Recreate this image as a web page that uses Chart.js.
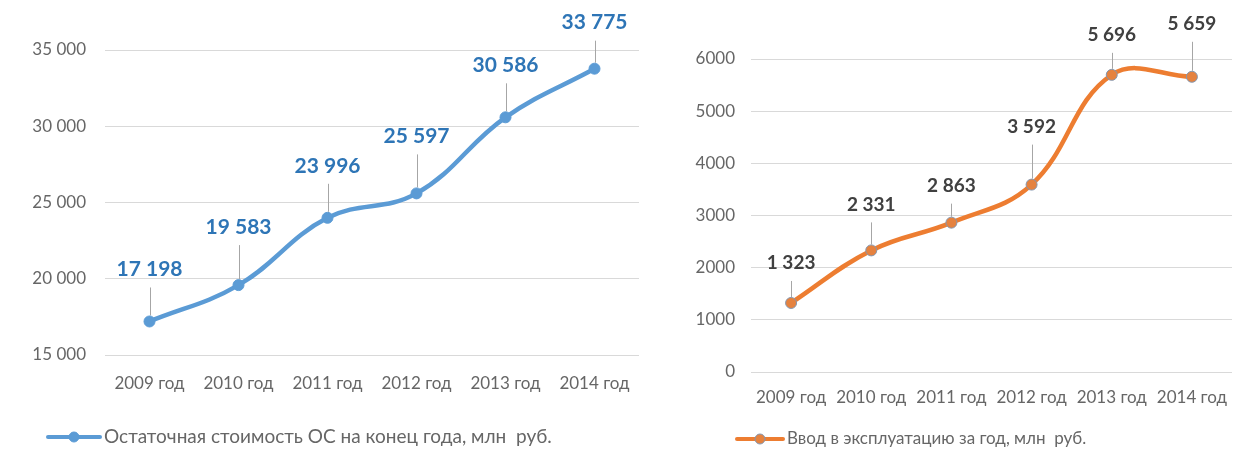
<!DOCTYPE html>
<html><head><meta charset="utf-8">
<script src="https://cdn.jsdelivr.net/npm/chart.js@4/dist/chart.umd.min.js"></script>
<style>
html,body{margin:0;padding:0;background:#fff;width:1252px;height:455px;overflow:hidden}
#l{position:absolute;left:0;top:0;width:650px;height:455px}
#r{position:absolute;left:650px;top:0;width:602px;height:455px}
canvas{display:block}
</style></head><body>
<div id="l"><canvas id="c1" width="650" height="455"></canvas></div>
<div id="r"><canvas id="c2" width="602" height="455"></canvas></div>
<script>
// ---- data ----
const years = ['2009 год','2010 год','2011 год','2012 год','2013 год','2014 год'];
const residualValue = [17198, 19583, 23996, 25597, 30586, 33775];
const commissioned = [1323, 2331, 2863, 3592, 5696, 5659];
const leftTickValues = [15000, 20000, 25000, 30000, 35000];
const rightTickValues = [0, 1000, 2000, 3000, 4000, 5000, 6000];
const leftLegend = 'Остаточная стоимость ОС на конец года, млн  руб.';
const rightLegend = 'Ввод в эксплуатацию за год, млн  руб.';

// ---- style ----
const FONT = 'Lato, "Open Sans", sans-serif';
const TICK = '#666666';
const fmtSpace = v => String(Math.round(v)).replace(/\B(?=(\d{3})+(?!\d))/g, ' ');

const deco = {
  id: 'deco',
  beforeDatasetsDraw(chart, args, o) {
    const ctx = chart.ctx, meta = chart.getDatasetMeta(0);
    ctx.save();
    ctx.strokeStyle = '#a6a6a6'; ctx.lineWidth = 1;
    meta.data.forEach((pt, i) => {
      const lift = o.lift[i];
      const x = Math.round(pt.x) + 0.5;
      ctx.beginPath();
      ctx.moveTo(x, pt.y - lift + o.gap);
      ctx.lineTo(x, pt.y - 6);
      ctx.stroke();
    });
    ctx.restore();
  },
  afterDatasetsDraw(chart, args, o) {
    const ctx = chart.ctx, meta = chart.getDatasetMeta(0);
    const vals = chart.data.datasets[0].data;
    ctx.save();
    ctx.font = 'bold ' + o.size + 'px ' + FONT;
    ctx.fillStyle = o.color; ctx.textAlign = 'center'; ctx.textBaseline = 'middle';
    meta.data.forEach((pt, i) => {
      ctx.fillText(fmtSpace(vals[i]), pt.x, pt.y - o.lift[i]);
    });
    // legend
    const ds = chart.data.datasets[0];
    const y = o.legY, x0 = chart.chartArea.left + o.legDx;
    ctx.strokeStyle = ds.borderColor; ctx.lineWidth = 4; ctx.lineCap = 'round';
    ctx.beginPath(); ctx.moveTo(x0, y); ctx.lineTo(x0 + o.legLen, y); ctx.stroke();
    ctx.beginPath(); ctx.arc(x0 + o.legLen / 2, y, 5, 0, Math.PI * 2);
    ctx.fillStyle = ds.pointBackgroundColor; ctx.fill();
    ctx.lineWidth = 1; ctx.strokeStyle = ds.pointBorderColor; ctx.stroke();
    ctx.font = o.legSize + 'px ' + FONT; ctx.fillStyle = TICK;
    ctx.textAlign = 'left';
    ctx.fillText(o.legText, x0 + o.legLen + 4, y);
    ctx.restore();
  }
};

function makeChart(id, cfg) {
  return new Chart(document.getElementById(id), {
    type: 'line',
    data: {
      labels: years,
      datasets: [{
        data: cfg.values,
        borderColor: cfg.line, borderWidth: 4.5,
        pointRadius: 5.5, pointHoverRadius: 5.5,
        pointBackgroundColor: cfg.pointFill, pointBorderColor: cfg.pointBorder, pointBorderWidth: 1,
        tension: 0.4, fill: false
      }]
    },
    options: {
      responsive: false, animation: false, devicePixelRatio: 1,
      layout: { padding: cfg.padding },
      plugins: { legend: { display: false }, tooltip: { enabled: false }, deco: cfg.deco },
      scales: {
        x: {
          offset: true,
          grid: { display: false, drawTicks: false },
          border: { display: false },
          ticks: { color: TICK, font: { family: FONT, size: 17 }, padding: cfg.xPad, maxRotation: 0, autoSkip: false },
          afterFit: s => { s.height = cfg.xHeight; }
        },
        y: {
          min: cfg.ticks[0], max: cfg.ticks[cfg.ticks.length - 1],
          afterBuildTicks: s => { s.ticks = cfg.ticks.map(v => ({ value: v })); },
          grid: { color: '#d9d9d9', lineWidth: 1, drawTicks: false },
          border: { display: false },
          ticks: { color: TICK, font: { family: FONT, size: 17 }, padding: cfg.yPad, callback: cfg.tickFmt },
          afterFit: s => { s.width = cfg.yWidth; }
        }
      }
    },
    plugins: [deco]
  });
}

makeChart('c1', {
  values: residualValue, ticks: leftTickValues, tickFmt: v => fmtSpace(v),
  line: '#5b9bd5', pointFill: '#5b9bd5', pointBorder: '#5b9bd5',
  padding: { top: 50, right: 11, bottom: 0, left: 0 },
  xHeight: 100, yWidth: 105, xPad: 18, yPad: 19,
  deco: { lift: [52, 58, 52, 57, 52, 46], gap: 18, size: 21, color: '#2e75b6',
          legText: leftLegend, legY: 437, legDx: -57, legLen: 52, legSize: 19 }
});

makeChart('c2', {
  values: commissioned, ticks: rightTickValues, tickFmt: v => String(v),
  line: '#ed7d31', pointFill: '#e5823f', pointBorder: '#8497b0',
  padding: { top: 59, right: 20, bottom: 0, left: 0 },
  xHeight: 83, yWidth: 101, xPad: 15, yPad: 16,
  deco: { lift: [40, 46, 37, 58, 40, 53], gap: 18, size: 19, color: '#404040',
          legText: rightLegend, legY: 439, legDx: -14, legLen: 46, legSize: 17 }
});
</script>
</body></html>
